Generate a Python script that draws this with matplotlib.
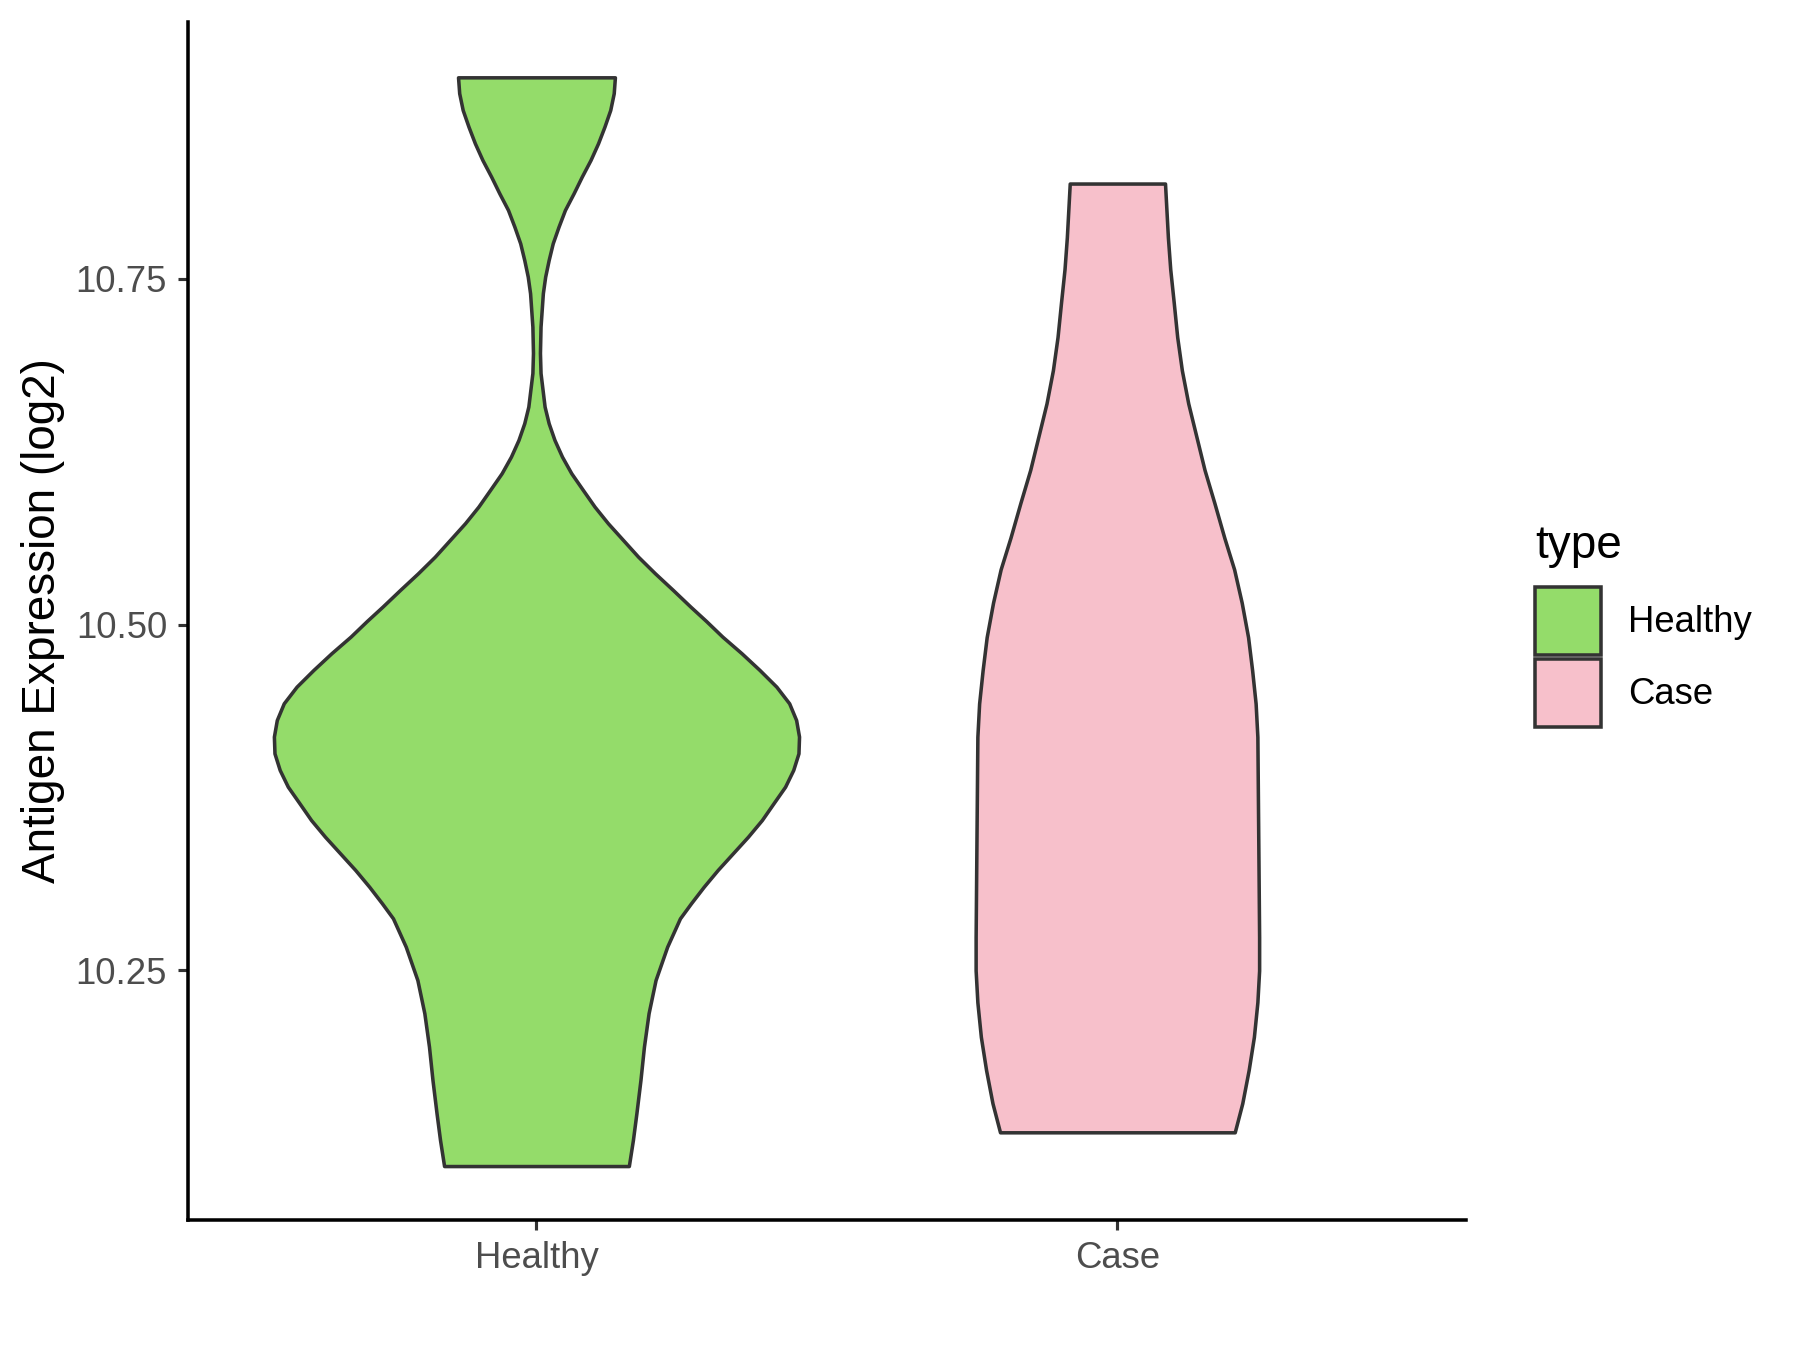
import matplotlib
matplotlib.use("Agg")
import matplotlib.pyplot as plt
from matplotlib.patches import Patch
import numpy as np

plt.rcParams['font.family'] = ['Liberation Sans', 'DejaVu Sans']

groups = ["Healthy", "Case"]
colors = ["#94DC6A", "#F7C0CB"]

# violin outlines: expression value and half width (x units)
healthy_y = [10.8958, 10.8843, 10.8722, 10.8601, 10.8481, 10.8360, 10.8240, 10.8120,
             10.7999, 10.7878, 10.7758, 10.7637, 10.7517, 10.7397, 10.7155, 10.6965,
             10.6820, 10.6577, 10.6457, 10.6336, 10.6215, 10.6095, 10.5974, 10.5854,
             10.5734, 10.5613, 10.5492, 10.5372, 10.5251, 10.5131, 10.5027, 10.4914,
             10.4794, 10.4673, 10.4552, 10.4432, 10.4311, 10.4191, 10.4070, 10.3950,
             10.3829, 10.3709, 10.3588, 10.3467, 10.3347, 10.3227, 10.3106, 10.2986,
             10.2877, 10.2672, 10.2431, 10.2191, 10.1949, 10.1708, 10.1467, 10.1274,
             10.1086]
healthy_w = [0.135, 0.133, 0.127, 0.117, 0.106, 0.093, 0.078, 0.064,
             0.049, 0.038, 0.028, 0.021, 0.015, 0.011, 0.007, 0.006,
             0.007, 0.014, 0.021, 0.031, 0.044, 0.060, 0.080, 0.100,
             0.123, 0.149, 0.175, 0.204, 0.235, 0.265, 0.292, 0.320,
             0.353, 0.384, 0.413, 0.435, 0.447, 0.452, 0.451, 0.442,
             0.428, 0.408, 0.388, 0.364, 0.338, 0.312, 0.288, 0.266,
             0.247, 0.225, 0.205, 0.193, 0.185, 0.179, 0.172, 0.166,
             0.159]

case_y = [10.819, 10.780, 10.757, 10.733, 10.708, 10.684, 10.660, 10.636, 10.612,
          10.588, 10.563, 10.540, 10.516, 10.491, 10.467, 10.443, 10.419, 10.371,
          10.323, 10.274, 10.250, 10.227, 10.202, 10.178, 10.154, 10.133]
case_w = [0.082, 0.087, 0.091, 0.097, 0.103, 0.111, 0.122, 0.136, 0.150,
          0.167, 0.184, 0.201, 0.214, 0.225, 0.232, 0.238, 0.241, 0.242,
          0.243, 0.244, 0.244, 0.241, 0.235, 0.226, 0.215, 0.202]

yticks = [10.25, 10.50, 10.75]

fig = plt.figure(figsize=(12, 9), dpi=150)
ax = fig.add_axes([0.1044, 0.0963, 0.71, 0.8874])

outlines = [(healthy_y, healthy_w), (case_y, case_w)]
for i, (ys, ws) in enumerate(outlines):
    pos = i + 1
    ys = np.array(ys)
    ws = np.array(ws)
    ax.fill_betweenx(ys, pos - ws, pos + ws, facecolor=colors[i],
                     edgecolor="#333333", linewidth=1.7, zorder=2,
                     joinstyle="round")

ax.set_xlim(0.4, 2.6)
ax.set_ylim(10.0696, 10.9358)
ax.set_xticks([1, 2])
ax.set_xticklabels(groups)
ax.set_yticks(yticks)
ax.set_yticklabels([f"{t:.2f}" for t in yticks])
ax.set_ylabel("Antigen Expression (log2)", fontsize=22, labelpad=5)

for s in ["top", "right"]:
    ax.spines[s].set_visible(False)
for s in ["left", "bottom"]:
    ax.spines[s].set_linewidth(1.7)
    ax.spines[s].set_color("black")
ax.tick_params(axis="both", length=5, width=1.5, color="#333333",
               labelsize=17.5, labelcolor="#4D4D4D", pad=5)

handles = [Patch(facecolor=c, edgecolor="#333333", linewidth=1.7) for c in colors]
leg = fig.legend(handles, groups, title="type", loc="upper left",
                 bbox_to_anchor=(0.853, 0.612), frameon=False, fontsize=17.5,
                 title_fontsize=22, handlelength=1.8, handleheight=2.5,
                 labelspacing=0.12, handletextpad=0.75, borderaxespad=0,
                 borderpad=0)
leg._legend_box.align = "left"
leg._legend_box.sep = 9

fig.savefig("out.png", dpi=150)
